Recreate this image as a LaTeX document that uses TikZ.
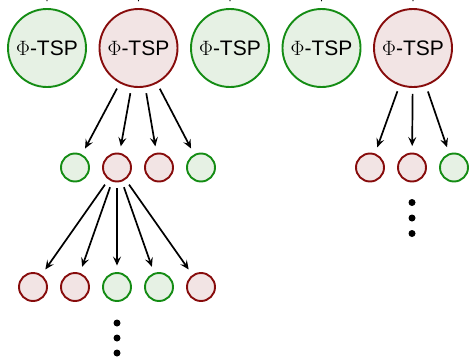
\documentclass[tikz,border=0pt]{standalone}
\usepackage{fontspec}
\setmainfont{Liberation Sans}
\usetikzlibrary{arrows.meta}
\definecolor{gstroke}{RGB}{20,140,20}
\definecolor{gfill}{RGB}{230,241,228}
\definecolor{rstroke}{RGB}{135,12,12}
\definecolor{rfill}{RGB}{242,228,228}
\tikzset{
  big/.style={circle,minimum size=78pt,inner sep=0pt,line width=1.9pt,font=\fontsize{21}{24}\selectfont},
  small/.style={circle,minimum size=28pt,inner sep=0pt,line width=1.9pt},
  gnode/.style={draw=gstroke,fill=gfill},
  rnode/.style={draw=rstroke,fill=rfill},
  arr/.style={-{Stealth[length=9pt,width=8pt,inset=3.5pt]},line width=1.7pt,shorten >=6.5pt,shorten <=6pt},
  dotnode/.style={circle,fill=black,minimum size=7pt,inner sep=0pt}
}
\begin{document}
\begin{tikzpicture}[x=1pt,y=-1pt]
\useasboundingbox (0,0) rectangle (469,359);
\clip (0,0) rectangle (469,359);
% top row
\node[big,gnode] (P1) at (47,48) {$\Phi$-TSP};
\node[big,rnode] (P2) at (138.5,48) {$\Phi$-TSP};
\node[big,gnode] (P3) at (230,48) {$\Phi$-TSP};
\node[big,gnode] (P4) at (321.5,48) {$\Phi$-TSP};
\node[big,rnode] (P5) at (413,48) {$\Phi$-TSP};
% stubs from above
\foreach \i/\x in {1/47,2/138.5,3/230,4/321.5,5/413}{
  \coordinate (T\i) at (\x,-40);
  \draw[arr] (T\i) -- (P\i);
}
% middle row under P2
\node[small,gnode] (A1) at (75,167.5) {};
\node[small,rnode] (A2) at (117,167.5) {};
\node[small,rnode] (A3) at (159,167.5) {};
\node[small,gnode] (A4) at (201,167.5) {};
\foreach \i in {1,...,4}{\draw[arr] (P2) -- (A\i);}
% bottom row under A2
\node[small,rnode] (B1) at (33,287) {};
\node[small,rnode] (B2) at (75,287) {};
\node[small,gnode] (B3) at (117,287) {};
\node[small,gnode] (B4) at (159,287) {};
\node[small,rnode] (B5) at (201,287) {};
\foreach \i in {1,...,5}{\draw[arr] (A2) -- (B\i);}
% right row under P5
\node[small,rnode] (C1) at (370,167.5) {};
\node[small,rnode] (C2) at (412,167.5) {};
\node[small,gnode] (C3) at (454,167.5) {};
\foreach \i in {1,...,3}{\draw[arr] (P5) -- (C\i);}
% dots
\node[dotnode] (d1) at (117,323) {};
\node[dotnode] (d2) at (117,338) {};
\node[dotnode] (d3) at (117,353) {};
\node[dotnode] (e1) at (412,202.5) {};
\node[dotnode] (e2) at (412,218) {};
\node[dotnode] (e3) at (412,233.5) {};
\end{tikzpicture}
\end{document}
